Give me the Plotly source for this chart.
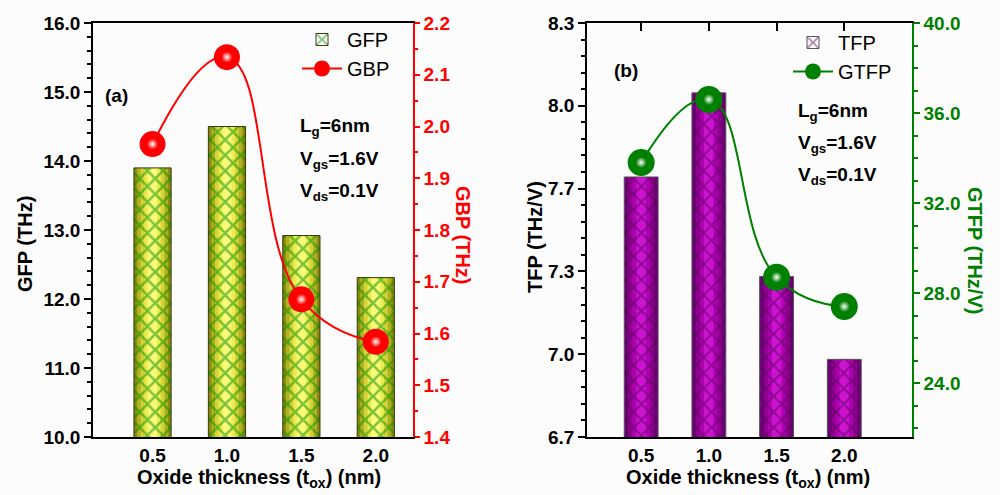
import plotly.graph_objects as go

# ---------------- data ----------------
thickness = [0.5, 1.0, 1.5, 2.0]
thickness_labels = ["0.5", "1.0", "1.5", "2.0"]
gfp = [13.90, 14.50, 12.92, 12.31]      # THz (bars, left panel)
gbp = [1.966, 2.134, 1.666, 1.584]      # THz (line, left panel)
tfp = [7.705, 8.03, 7.32, 7.00]         # THz/V (bars, right panel)
gtfp = [33.8, 36.6, 28.7, 27.4]         # THz/V (line, right panel)
tfp_tickvals = [6.7, 7.02, 7.34, 7.66, 7.98, 8.3]
tfp_ticktext = ["6.7", "7.0", "7.3", "7.7", "8.0", "8.3"]

FONT = "Liberation Sans"
RED = "#ff0000"
GREEN = "#008000"

fig = go.Figure()

# ---- left panel bars: stepped cylinder shading + crosshatch ----
left_layers = [(0.25, "#8a8a0e"), (0.21, "#b0b020"), (0.16, "#d4d438"),
               (0.11, "#ecec52"), (0.06, "#fafa76")]
for w, c in left_layers:
    fig.add_bar(x=thickness, y=gfp, width=w, marker=dict(color=c, line=dict(width=0)),
                xaxis="x", yaxis="y", showlegend=False, hoverinfo="skip")
fig.add_bar(x=thickness, y=gfp, width=0.25, name="GFP", legend="legend",
            marker=dict(color="rgba(220,220,60,0.0)", line=dict(color="#3a3a10", width=1),
                        pattern=dict(shape="x", fgcolor="#008a00", size=11, solidity=0.4,
                                     fillmode="overlay")),
            xaxis="x", yaxis="y")
fig.add_scatter(x=thickness, y=gbp, name="GBP", legend="legend", mode="lines+markers",
                line=dict(color=RED, width=2, shape="spline", smoothing=1.3),
                marker=dict(size=26, color=RED, line=dict(width=0)),
                xaxis="x", yaxis="y2")
fig.add_scatter(x=thickness, y=gbp, mode="markers", showlegend=False, hoverinfo="skip",
                marker=dict(size=11, color=RED, line=dict(width=0),
                            gradient=dict(type="radial", color="#ffffff")),
                xaxis="x", yaxis="y2")

# ---- right panel bars ----
right_layers = [(0.25, "#6e0078"), (0.19, "#8e008e"), (0.13, "#b000b4"), (0.07, "#cc14d0")]
for w, c in right_layers:
    fig.add_bar(x=thickness, y=tfp, width=w, marker=dict(color=c, line=dict(width=0)),
                xaxis="x2", yaxis="y3", showlegend=False, hoverinfo="skip")
fig.add_bar(x=thickness, y=tfp, width=0.25, name="TFP", legend="legend2",
            marker=dict(color="rgba(200,0,200,0.0)", line=dict(color="#555555", width=1),
                        pattern=dict(shape="x", fgcolor="#5a005a", size=11, solidity=0.35,
                                     fillmode="overlay")),
            xaxis="x2", yaxis="y3")
fig.add_scatter(x=thickness, y=gtfp, name="GTFP", legend="legend2", mode="lines+markers",
                line=dict(color=GREEN, width=2, shape="spline", smoothing=1.3),
                marker=dict(size=27, color=GREEN, line=dict(width=0)),
                xaxis="x2", yaxis="y4")
fig.add_scatter(x=thickness, y=gtfp, mode="markers", showlegend=False, hoverinfo="skip",
                marker=dict(size=11, color=GREEN, line=dict(width=0),
                            gradient=dict(type="radial", color="#ffffff")),
                xaxis="x2", yaxis="y4")

ydom = [1 - 437 / 495, 1 - 23 / 495]
tickfont = dict(family=FONT, size=19, color="black", weight="bold")

common_x = dict(tickvals=thickness, ticktext=thickness_labels, showline=True,
                linecolor="black", linewidth=1.5, showgrid=False, zeroline=False,
                tickfont=tickfont, automargin=False)

fig.update_layout(
    width=1000, height=495, autosize=False,
    margin=dict(l=0, r=0, t=0, b=0, pad=0, autoexpand=False),
    paper_bgcolor="#fcfcfc", plot_bgcolor="#fcfcfc",
    barmode="overlay",
    xaxis=dict(domain=[0.093, 0.413], range=[0.1, 2.25], anchor="y", mirror=True,
               ticks="", **common_x),
    yaxis=dict(domain=ydom, range=[10, 16], dtick=1, tick0=10, tickformat=".1f",
               anchor="x", showline=True, linecolor="black", linewidth=1.5,
               ticks="outside", ticklen=7, tickcolor="black", tickwidth=1.5,
               minor=dict(dtick=0.2, tick0=10, ticklen=4, ticks="outside", tickcolor="black"),
               showgrid=False, zeroline=False, tickfont=tickfont, automargin=False),
    yaxis2=dict(overlaying="y", side="right", anchor="x", range=[1.4, 2.2], dtick=0.1,
                tick0=1.4, tickformat=".1f", showline=True, linecolor=RED, linewidth=1.5,
                ticks="outside", ticklen=5, tickcolor=RED, tickwidth=1.5,
                minor=dict(dtick=0.05, tick0=1.4, ticklen=3, ticks="outside", tickcolor=RED),
                showgrid=False, zeroline=False, automargin=False,
                tickfont=dict(family=FONT, size=19, color=RED, weight="bold")),
    xaxis2=dict(domain=[0.587, 0.912], range=[0.1, 2.5], anchor="y3", mirror="ticks",
                ticks="inside", ticklen=8, tickcolor="black", tickwidth=1.5,
                layer="below traces", **common_x),
    yaxis3=dict(domain=ydom, range=[6.7, 8.3], tickvals=tfp_tickvals, ticktext=tfp_ticktext,
                anchor="x2", showline=True, linecolor="black", linewidth=1.5,
                ticks="outside", ticklen=7, tickcolor="black", tickwidth=1.5,
                minor=dict(tick0=6.7, dtick=0.064, ticklen=4, ticks="outside", tickcolor="black"),
                showgrid=False, zeroline=False, tickfont=tickfont, automargin=False),
    yaxis4=dict(overlaying="y3", side="right", anchor="x2", range=[21.6, 40], dtick=4,
                tick0=0, tickformat=".1f", showline=True, linecolor=GREEN, linewidth=1.5,
                ticks="outside", ticklen=6, tickcolor=GREEN, tickwidth=1.5,
                minor=dict(dtick=1, tick0=0, ticklen=4, ticks="outside", tickcolor=GREEN),
                showgrid=False, zeroline=False, automargin=False,
                tickfont=dict(family=FONT, size=19, color=GREEN, weight="bold")),
    legend=dict(x=0.297, y=1 - 20 / 495, xanchor="left", yanchor="top",
                bgcolor="rgba(0,0,0,0)", font=dict(family=FONT, size=20, color="black"),
                tracegroupgap=0, itemwidth=40),
    legend2=dict(x=0.788, y=1 - 23 / 495, xanchor="left", yanchor="top",
                 bgcolor="rgba(0,0,0,0)", font=dict(family=FONT, size=20, color="black"),
                 tracegroupgap=0, itemwidth=40),
)

ann_font = dict(family=FONT, size=19, color="black", weight="bold")
annotations = [
    dict(text="(a)", x=0.103, y=1 - 95 / 495, xanchor="left", yanchor="middle", font=ann_font),
    dict(text="(b)", x=0.612, y=1 - 70 / 495, xanchor="left", yanchor="middle", font=ann_font),
    dict(text="L<sub>g</sub>=6nm", x=0.298, y=1 - 127 / 495, xanchor="left", yanchor="middle", font=ann_font),
    dict(text="V<sub>gs</sub>=1.6V", x=0.298, y=1 - 160 / 495, xanchor="left", yanchor="middle", font=ann_font),
    dict(text="V<sub>ds</sub>=0.1V", x=0.298, y=1 - 192 / 495, xanchor="left", yanchor="middle", font=ann_font),
    dict(text="L<sub>g</sub>=6nm", x=0.796, y=1 - 112 / 495, xanchor="left", yanchor="middle", font=ann_font),
    dict(text="V<sub>gs</sub>=1.6V", x=0.796, y=1 - 144 / 495, xanchor="left", yanchor="middle", font=ann_font),
    dict(text="V<sub>ds</sub>=0.1V", x=0.796, y=1 - 176 / 495, xanchor="left", yanchor="middle", font=ann_font),
    # axis titles
    dict(text="GFP (THz)", x=0.025, y=1 - 244 / 495, textangle=-90, xanchor="center", yanchor="middle",
         font=dict(family=FONT, size=20, color="black", weight="bold")),
    dict(text="GBP (THz)", x=0.463, y=1 - 235 / 495, textangle=90, xanchor="center", yanchor="middle",
         font=dict(family=FONT, size=20, color=RED, weight="bold")),
    dict(text="TFP (THz/V)", x=0.535, y=1 - 237 / 495, textangle=-90, xanchor="center", yanchor="middle",
         font=dict(family=FONT, size=20, color="black", weight="bold")),
    dict(text="GTFP (THz/V)", x=0.975, y=1 - 250 / 495, textangle=90, xanchor="center", yanchor="middle",
         font=dict(family=FONT, size=20, color=GREEN, weight="bold")),
    dict(text="Oxide thickness (t<sub>ox</sub>) (nm)", x=0.259, y=1 - 478 / 495, xanchor="center",
         yanchor="middle", font=dict(family=FONT, size=20, color="black", weight="bold")),
    dict(text="Oxide thickness (t<sub>ox</sub>) (nm)", x=0.748, y=1 - 478 / 495, xanchor="center",
         yanchor="middle", font=dict(family=FONT, size=20, color="black", weight="bold")),
]
for a in annotations:
    a.update(xref="paper", yref="paper", showarrow=False)
fig.update_layout(annotations=annotations)

fig.write_html("out.html",
               post_script="document.body.style.margin='0';document.body.style.padding='0';")
